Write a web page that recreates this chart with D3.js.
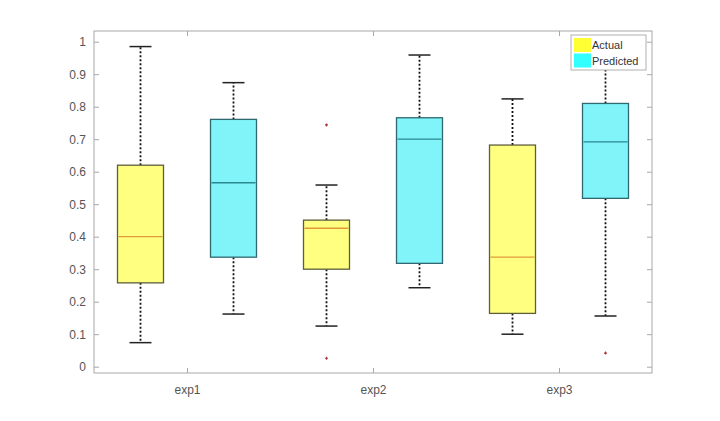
<!DOCTYPE html>
<html>
<head>
<meta charset="utf-8">
<script src="https://cdn.jsdelivr.net/npm/d3@7"></script>
<style>
  body { margin: 0; background: #fff; }
  svg { display: block; }
</style>
</head>
<body>
<svg id="chart" width="720" height="421"></svg>
<script>
// categories and series
const groups = ["exp1", "exp2", "exp3"];
const seriesNames = ["Actual", "Predicted"];
const yTicks = [0, 0.1, 0.2, 0.3, 0.4, 0.5, 0.6, 0.7, 0.8, 0.9, 1];

// box statistics
const actualLow = [0.074, 0.125, 0.100];
const actualQ1 = [0.258, 0.300, 0.164];
const actualMedian = [0.400, 0.426, 0.337];
const actualQ3 = [0.620, 0.451, 0.682];
const actualHigh = [0.985, 0.559, 0.824];
const actualOutliers = [[], [0.744, 0.026], []];

const predictedLow = [0.162, 0.243, 0.156];
const predictedQ1 = [0.337, 0.318, 0.518];
const predictedMedian = [0.566, 0.700, 0.692];
const predictedQ3 = [0.761, 0.766, 0.810];
const predictedHigh = [0.874, 0.959, 0.960];
const predictedOutliers = [[], [], [0.042]];

const styles = {
  Actual: { fill: "#ffff80", stroke: "#5e5e3a", median: "#e09a3c", patch: "#ffff33" },
  Predicted: { fill: "#80f4f8", stroke: "#2f6870", median: "#2a8890", patch: "#33ffff" }
};

function buildBoxes(name, lo, q1, med, q3, hi, out, offset) {
  return groups.map((g, i) => ({
    series: name, group: g, pos: i * 2 + 1 + offset,
    lo: lo[i], q1: q1[i], med: med[i], q3: q3[i], hi: hi[i], out: out[i]
  }));
}
const boxes = buildBoxes("Actual", actualLow, actualQ1, actualMedian, actualQ3, actualHigh, actualOutliers, 0)
  .concat(buildBoxes("Predicted", predictedLow, predictedQ1, predictedMedian, predictedQ3, predictedHigh, predictedOutliers, 1));

const svg = d3.select("#chart");
const plotLeft = 94, plotRight = 652, plotTop = 31, plotBottom = 373;

const x = d3.scaleLinear().domain([0.5, 6.5]).range([plotLeft, plotRight]);
const y = d3.scaleLinear().domain([0, 1]).range([366.7, 41.7]);
const boxW = 46, capW = 22;
const axisColor = "#a8a8a8", textColor = "#555";

// axes box
svg.append("rect")
  .attr("x", plotLeft).attr("y", plotTop)
  .attr("width", plotRight - plotLeft).attr("height", plotBottom - plotTop)
  .attr("fill", "none").attr("stroke", axisColor).attr("stroke-width", 1);

const yAxisL = d3.axisLeft(y).tickValues(yTicks).tickSize(-5).tickPadding(8).tickFormat(d3.format("~g"));
const yAxisR = d3.axisRight(y).tickValues(yTicks).tickSize(-5).tickFormat("");
const groupPos = groups.map((g, i) => i * 2 + 1.5);
const xAxisB = d3.axisBottom(x).tickValues(groupPos).tickSize(-5).tickPadding(12)
  .tickFormat((d, i) => groups[i]);
const xAxisT = d3.axisTop(x).tickValues(groupPos).tickSize(-5).tickFormat("");

function styleAxis(g) {
  g.select(".domain").remove();
  g.selectAll("line").attr("stroke", axisColor);
  g.selectAll("text").attr("fill", textColor)
    .style("font-family", "Liberation Sans, Arial, sans-serif").style("font-size", "12px");
}
svg.append("g").attr("transform", `translate(${plotLeft},0)`).call(yAxisL).call(styleAxis);
svg.append("g").attr("transform", `translate(${plotRight},0)`).call(yAxisR).call(styleAxis);
svg.append("g").attr("transform", `translate(0,${plotBottom})`).call(xAxisB).call(styleAxis);
svg.append("g").attr("transform", `translate(0,${plotTop})`).call(xAxisT).call(styleAxis);

// boxes
const bx = svg.append("g").selectAll("g").data(boxes).join("g");

bx.append("line")
  .attr("x1", d => x(d.pos)).attr("x2", d => x(d.pos))
  .attr("y1", d => y(d.q3)).attr("y2", d => y(d.hi))
  .attr("stroke", "#111").attr("stroke-width", 1.8).attr("stroke-dasharray", "2,2");
bx.append("line")
  .attr("x1", d => x(d.pos)).attr("x2", d => x(d.pos))
  .attr("y1", d => y(d.q1)).attr("y2", d => y(d.lo))
  .attr("stroke", "#111").attr("stroke-width", 1.8).attr("stroke-dasharray", "2,2");
bx.selectAll(".cap").data(d => [d.lo, d.hi].map(v => ({ v, pos: d.pos }))).join("line")
  .attr("class", "cap")
  .attr("x1", d => x(d.pos) - capW / 2).attr("x2", d => x(d.pos) + capW / 2)
  .attr("y1", d => y(d.v)).attr("y2", d => y(d.v))
  .attr("stroke", "#222").attr("stroke-width", 1.5);

bx.append("rect")
  .attr("x", d => x(d.pos) - boxW / 2).attr("width", boxW)
  .attr("y", d => y(d.q3)).attr("height", d => y(d.q1) - y(d.q3))
  .attr("fill", d => styles[d.series].fill)
  .attr("stroke", d => styles[d.series].stroke).attr("stroke-width", 1.3);

bx.append("line")
  .attr("x1", d => x(d.pos) - boxW / 2 + 1).attr("x2", d => x(d.pos) + boxW / 2 - 1)
  .attr("y1", d => y(d.med)).attr("y2", d => y(d.med))
  .attr("stroke", d => styles[d.series].median).attr("stroke-width", 1.3);

bx.selectAll(".out").data(d => d.out.map(v => ({ v, pos: d.pos }))).join("path")
  .attr("class", "out")
  .attr("d", d => `M${x(d.pos) - 1.5},${y(d.v)}h3M${x(d.pos)},${y(d.v) - 1.5}v3`)
  .attr("stroke", "#b03a3a").attr("stroke-width", 1.2);

// legend
const leg = svg.append("g").attr("transform", "translate(571,35)");
leg.append("rect").attr("width", 75).attr("height", 35)
  .attr("fill", "#fff").attr("stroke", "#b0b0b0").attr("stroke-width", 1);
seriesNames.forEach((s, i) => {
  leg.append("rect").attr("x", 3).attr("y", 3 + i * 15.5).attr("width", 17).attr("height", 14)
    .attr("fill", styles[s].patch);
  leg.append("text").attr("x", 21).attr("y", 14 + i * 15.5).text(s)
    .attr("fill", "#333").style("font-family", "Liberation Sans, Arial, sans-serif")
    .style("font-size", "11px");
});
</script>
</body>
</html>
